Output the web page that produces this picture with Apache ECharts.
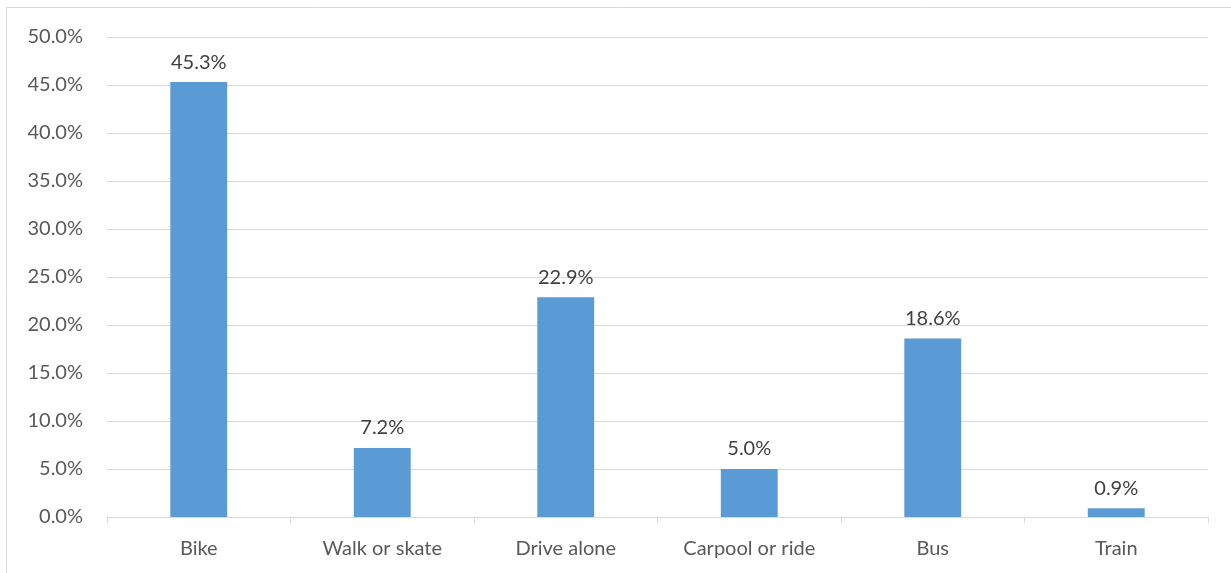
<!DOCTYPE html>
<html><head><meta charset="utf-8">
<script src="https://cdn.jsdelivr.net/npm/echarts@6/dist/echarts.min.js"></script>
<style>html,body{margin:0;padding:0;background:#fff}#c{width:1231px;height:573px}</style>
</head><body><div id="c"></div>
<script>
const categories = ["Bike", "Walk or skate", "Drive alone", "Carpool or ride", "Bus", "Train"];
const values = [45.3, 7.2, 22.9, 5.0, 18.6, 0.9];
const yTicks = [0, 5, 10, 15, 20, 25, 30, 35, 40, 45, 50];

const chart = echarts.init(document.getElementById('c'));
const font = "Lato, 'Open Sans', sans-serif";
chart.setOption({
  animation: false,
  graphic: [{
    type: 'rect', shape: {x: 6.5, y: 7.5, width: 1300, height: 600},
    style: {fill: 'none', stroke: '#d9d9d9', lineWidth: 1}, silent: true, z: -1
  }],
  grid: {left: 107, right: 23, top: 37, bottom: 56, containLabel: false},
  xAxis: {
    type: 'category', data: categories,
    axisLine: {lineStyle: {color: '#d9d9d9', width: 1}},
    axisTick: {show: true, length: 6, lineStyle: {color: '#d9d9d9'}},
    axisLabel: {color: '#595959', fontSize: 20, fontFamily: font, margin: 22}
  },
  yAxis: {
    type: 'value', min: yTicks[0], max: yTicks[yTicks.length - 1], interval: 5,
    axisLine: {show: false}, axisTick: {show: false},
    splitLine: {lineStyle: {color: '#d9d9d9', width: 1}},
    axisLabel: {color: '#595959', fontSize: 20, fontFamily: font, margin: 24,
      formatter: v => v.toFixed(1) + '%'}
  },
  series: [{
    type: 'bar', data: values, barWidth: '31%',
    itemStyle: {color: '#5b9bd5'},
    label: {show: true, position: 'top', distance: 10, color: '#404040', fontSize: 20, fontFamily: font,
      formatter: p => p.value.toFixed(1) + '%'}
  }]
});
</script></body></html>
